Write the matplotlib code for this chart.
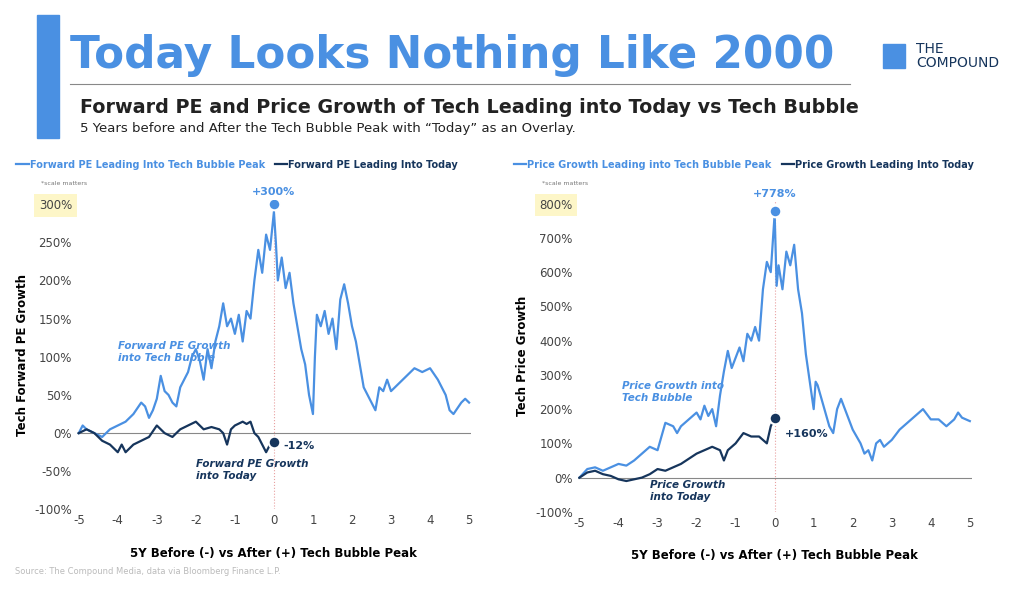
import matplotlib
matplotlib.use("Agg")
import matplotlib.pyplot as plt
from matplotlib.patches import Rectangle

LIGHT = "#4a90e2"
DARK = "#16355c"

pe_bubble_x = [-5,-4.9,-4.8,-4.6,-4.4,-4.2,-4.0,-3.8,-3.6,-3.4,-3.3,-3.2,-3.1,-3.0,-2.9,-2.8,-2.7,-2.6,-2.5,-2.4,-2.2,-2.1,-2.0,-1.9,-1.8,-1.7,-1.6,-1.5,-1.4,-1.3,-1.2,-1.1,-1.0,-0.9,-0.8,-0.7,-0.6,-0.5,-0.4,-0.3,-0.2,-0.1,0,0.05,0.1,0.2,0.3,0.4,0.5,0.6,0.7,0.8,0.9,1.0,1.05,1.1,1.2,1.3,1.4,1.5,1.6,1.7,1.8,1.9,2.0,2.1,2.2,2.3,2.4,2.5,2.6,2.7,2.8,2.9,3.0,3.2,3.4,3.6,3.8,4.0,4.2,4.4,4.5,4.6,4.8,4.9,5.0]
pe_bubble_y = [0,10,5,0,-5,5,10,15,25,40,35,20,30,45,75,55,50,40,35,60,80,100,110,95,70,110,85,120,140,170,140,150,130,155,120,160,150,200,240,210,260,240,290,250,200,230,190,210,170,140,110,90,50,25,100,155,140,160,130,150,110,175,195,170,140,120,90,60,50,40,30,60,55,70,55,65,75,85,80,85,70,50,30,25,40,45,40]
pe_today_x = [-5,-4.8,-4.6,-4.4,-4.2,-4.0,-3.9,-3.8,-3.6,-3.4,-3.2,-3.0,-2.8,-2.6,-2.4,-2.2,-2.0,-1.9,-1.8,-1.6,-1.4,-1.3,-1.2,-1.1,-1.0,-0.8,-0.7,-0.6,-0.5,-0.4,-0.3,-0.2,-0.1,0]
pe_today_y = [0,5,0,-10,-15,-25,-15,-25,-15,-10,-5,10,0,-5,5,10,15,10,5,8,5,0,-15,5,10,15,12,15,0,-5,-15,-25,-15,-12]

px_bubble_x = [-5,-4.8,-4.6,-4.4,-4.2,-4.0,-3.8,-3.6,-3.4,-3.2,-3.0,-2.9,-2.8,-2.6,-2.5,-2.4,-2.2,-2.0,-1.9,-1.8,-1.7,-1.6,-1.5,-1.4,-1.3,-1.2,-1.1,-1.0,-0.9,-0.8,-0.7,-0.6,-0.5,-0.4,-0.3,-0.2,-0.1,0,0.05,0.1,0.2,0.3,0.4,0.5,0.6,0.7,0.8,0.9,1.0,1.05,1.1,1.2,1.3,1.4,1.5,1.6,1.7,1.8,1.9,2.0,2.1,2.2,2.3,2.4,2.5,2.6,2.7,2.8,2.9,3.0,3.2,3.4,3.6,3.8,4.0,4.2,4.4,4.6,4.7,4.8,5.0]
px_bubble_y = [0,25,30,20,30,40,35,50,70,90,80,120,160,150,130,150,170,190,170,210,180,200,150,240,310,370,320,350,380,340,420,400,440,400,550,630,600,770,560,620,550,660,620,680,550,480,360,280,200,280,270,230,190,150,130,200,230,200,170,140,120,100,70,80,50,100,110,90,100,110,140,160,180,200,170,170,150,170,190,175,165]
px_today_x = [-5,-4.8,-4.6,-4.4,-4.2,-4.0,-3.8,-3.6,-3.4,-3.2,-3.0,-2.8,-2.6,-2.4,-2.2,-2.0,-1.8,-1.6,-1.4,-1.3,-1.2,-1.0,-0.8,-0.6,-0.4,-0.2,-0.1,0]
px_today_y = [0,15,20,10,5,-5,-10,-5,0,10,25,20,30,40,55,70,80,90,80,50,80,100,130,120,120,100,150,175]

xticks = [-5,-4,-3,-2,-1,0,1,2,3,4,5]
pe_yticks = [-100,-50,0,50,100,150,200,250,300]
px_yticks = [-100,0,100,200,300,400,500,600,700,800]

fig = plt.figure(figsize=(10.24, 5.89), dpi=100)
fig.patch.set_facecolor("white")
fig.add_artist(Rectangle((0.036, 0.765), 0.022, 0.21, transform=fig.transFigure, color=LIGHT))
fig.text(0.068, 0.905, "Today Looks Nothing Like 2000", fontsize=31.5, fontweight="bold", color=LIGHT, va="center")
fig.add_artist(plt.Line2D([0.068, 0.83], [0.858, 0.858], transform=fig.transFigure, color="#888888", lw=0.8))
fig.text(0.078, 0.818, "Forward PE and Price Growth of Tech Leading into Today vs Tech Bubble", fontsize=13.8, fontweight="bold", color="#222222", va="center")
fig.text(0.078, 0.782, "5 Years before and After the Tech Bubble Peak with \u201cToday\u201d as an Overlay.", fontsize=9.5, color="#222222", va="center")
fig.text(0.895, 0.905, "THE\nCOMPOUND", fontsize=10, color=DARK, va="center", linespacing=1.0)
fig.add_artist(Rectangle((0.862, 0.885), 0.022, 0.04, transform=fig.transFigure, color=LIGHT))
fig.text(0.015, 0.025, "Source: The Compound Media, data via Bloomberg Finance L.P.", fontsize=6, color="#bbbbbb")

def panel(rect, bx, by, tx, ty, yticks, ylabel, leg1, leg2, peak_lbl, today_lbl, lbl1, lbl1_pos, lbl2, lbl2_pos, today_off, leg_x):
    ax = fig.add_axes(rect)
    l1, = ax.plot(bx, by, color=LIGHT, lw=1.6, zorder=3, label=leg1)
    l2, = ax.plot(tx, ty, color=DARK, lw=1.6, zorder=4, label=leg2)
    ax.axhline(0, color="#888888", lw=0.8, zorder=2)
    ax.axvline(0, color="#e8a0a0", lw=0.8, ls=":", zorder=2)
    ax.set_xlim(-5.05, 5.05)
    ax.set_ylim(yticks[0], yticks[-1] + (yticks[1]-yticks[0])*0.1)
    ax.set_xticks(xticks)
    ax.set_xticklabels([str(t) for t in xticks])
    ax.set_yticks(yticks)
    ax.set_yticklabels([f"{t}%" for t in yticks])
    ax.get_yticklabels()[-1].set_bbox(dict(facecolor="#fdf6c8", edgecolor="none", pad=4))
    for s in ax.spines.values():
        s.set_visible(False)
    ax.tick_params(length=0, labelsize=8.5, colors="#444444")
    ax.set_ylabel(ylabel, fontsize=8.5, fontweight="bold")
    ax.set_xlabel("5Y Before (-) vs After (+) Tech Bubble Peak", fontsize=8.5, fontweight="bold", labelpad=14)
    ax.scatter([0], [max(by)+10], s=70, color=LIGHT, edgecolor="white", lw=1.5, zorder=5)
    ax.annotate(peak_lbl, (0, max(by)), xytext=(0, 12), textcoords="offset points", ha="center", fontsize=8, fontweight="bold", color=LIGHT)
    ax.scatter([0], [ty[-1]], s=70, color=DARK, edgecolor="white", lw=1.5, zorder=5)
    ax.annotate(today_lbl, (0, ty[-1]), xytext=(7, today_off), textcoords="offset points", ha="left", va="center", fontsize=8, fontweight="bold", color=DARK)
    ax.text(*lbl1_pos, lbl1, fontsize=7.5, fontweight="bold", fontstyle="italic", color=LIGHT)
    ax.text(*lbl2_pos, lbl2, fontsize=7.5, fontweight="bold", fontstyle="italic", color=DARK)
    ax.text(-0.09, 1.05, "*scale matters", transform=ax.transAxes, fontsize=4.5, color="#777777")
    leg = fig.legend(handles=[l1, l2], loc="lower left", bbox_to_anchor=(leg_x, 0.705), ncol=2, frameon=False,
                     fontsize=7, handlelength=1.3, handletextpad=0.1, columnspacing=1.0, borderaxespad=0)
    for t, c in zip(leg.get_texts(), [LIGHT, DARK]):
        t.set_color(c); t.set_fontweight("bold")
    return ax

panel([0.075, 0.135, 0.385, 0.525], pe_bubble_x, pe_bubble_y, pe_today_x, pe_today_y, pe_yticks,
      "Tech Forward PE Growth", "Forward PE Leading Into Tech Bubble Peak", "Forward PE Leading Into Today",
      "+300%", "-12%", "Forward PE Growth\ninto Tech Bubble", (-4.0, 95), "Forward PE Growth\ninto Today", (-2.0, -60), -3, 0.012)
panel([0.564, 0.131, 0.385, 0.529], px_bubble_x, px_bubble_y, px_today_x, px_today_y, px_yticks,
      "Tech Price Growth", "Price Growth Leading into Tech Bubble Peak", "Price Growth Leading Into Today",
      "+778%", "+160%", "Price Growth into\nTech Bubble", (-3.9, 225), "Price Growth\ninto Today", (-3.2, -65), -12, 0.498)

fig.savefig("out.png", dpi=100)
